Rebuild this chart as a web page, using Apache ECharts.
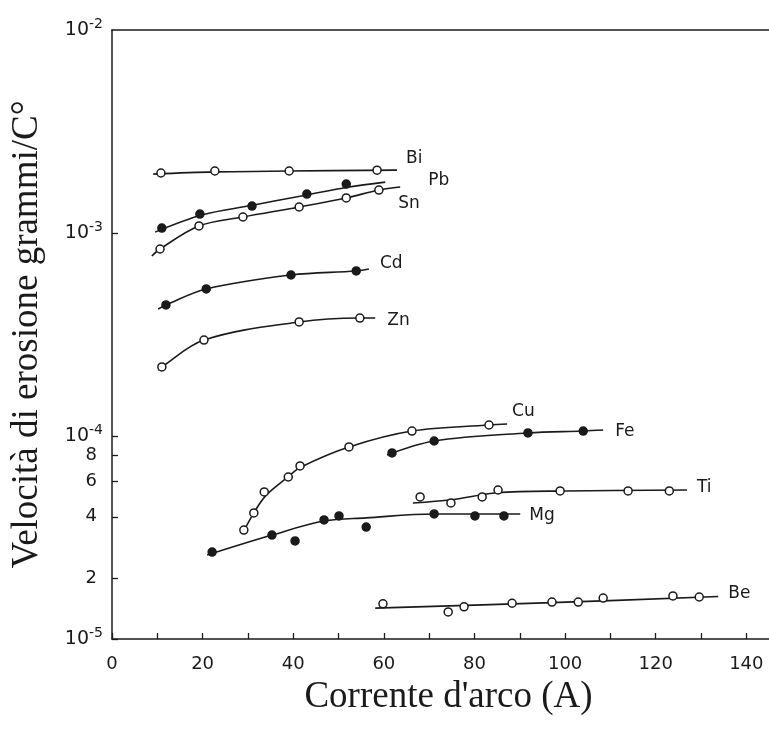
<!DOCTYPE html>
<html>
<head>
<meta charset="utf-8">
<script src="https://cdn.jsdelivr.net/npm/echarts@6/dist/echarts.min.js"></script>
<style>
html,body{margin:0;padding:0;background:#fff;}
#chart{width:769px;height:729px;}
</style>
</head>
<body>
<div id="chart"></div>
<script>
// ---- tick labels ----
const yTickValues = [1e-5, 2e-5, 4e-5, 6e-5, 8e-5, 1e-4, 1e-3, 1e-2];
const yTickLabels = ['10|-5', '2', '4', '6', '8', '10|-4', '10|-3', '10|-2'];
const xTickValues = [0, 10, 20, 30, 40, 50, 60, 70, 80, 90, 100, 110, 120, 130, 140];
const xLabelValues = [0, 20, 40, 60, 80, 100, 120, 140];

// ---- metals ----
const metals = ['Bi', 'Pb', 'Sn', 'Cd', 'Zn', 'Cu', 'Fe', 'Ti', 'Mg', 'Be'];
const filledMetals = ['Pb', 'Cd', 'Fe', 'Mg'];

// measured points [current A, erosion g/C]
const Bi_points = [[10.8, 1.975e-3], [22.7, 2.02e-3], [39.1, 2.02e-3], [58.5, 2.04e-3]];
const Pb_points = [[11.0, 1.058e-3], [19.4, 1.24e-3], [30.9, 1.358e-3], [43.0, 1.556e-3], [51.7, 1.743e-3]];
const Sn_points = [[10.6, 8.34e-4], [19.2, 1.083e-3], [28.9, 1.199e-3], [41.3, 1.343e-3], [51.7, 1.488e-3], [58.9, 1.628e-3]];
const Cd_points = [[11.9, 4.42e-4], [20.8, 5.30e-4], [39.5, 6.21e-4], [53.9, 6.50e-4]];
const Zn_points = [[11.0, 2.19e-4], [20.3, 2.97e-4], [41.3, 3.645e-4], [54.7, 3.81e-4]];
const Cu_points = [[29.1, 3.44e-5], [31.3, 4.18e-5], [33.6, 5.30e-5], [38.9, 6.28e-5], [41.5, 7.12e-5], [52.3, 8.83e-5], [66.2, 1.058e-4], [83.2, 1.133e-4]];
const Fe_points = [[61.8, 8.25e-5], [71.1, 9.45e-5], [91.8, 1.035e-4], [104.0, 1.058e-4]];
const Ti_points = [[68.0, 5.01e-5], [74.8, 4.68e-5], [81.7, 5.01e-5], [85.2, 5.42e-5], [98.9, 5.36e-5], [113.9, 5.36e-5], [123.0, 5.36e-5]];
const Mg_points = [[22.1, 2.68e-5], [35.3, 3.25e-5], [40.4, 3.04e-5], [46.8, 3.86e-5], [50.1, 4.04e-5], [56.1, 3.56e-5], [71.1, 4.13e-5], [80.1, 4.04e-5], [86.5, 4.04e-5]];
const Be_points = [[59.8, 1.49e-5], [74.2, 1.36e-5], [77.7, 1.44e-5], [88.3, 1.50e-5], [97.1, 1.52e-5], [102.9, 1.52e-5], [108.4, 1.59e-5], [123.8, 1.63e-5], [129.6, 1.61e-5]];

// hand-drawn fitted curves
const Bi_curve = [[9.1, 1.95e-3], [22.7, 2.0e-3], [39.1, 2.02e-3], [62.9, 2.04e-3]];
const Pb_curve = [[9.5, 1.01e-3], [20, 1.23e-3], [31, 1.37e-3], [43, 1.54e-3], [52, 1.68e-3], [60.3, 1.78e-3]];
const Sn_curve = [[8.8, 7.7e-4], [10.6, 8.34e-4], [19.2, 1.083e-3], [28.9, 1.199e-3], [41.3, 1.343e-3], [51.7, 1.488e-3], [58.9, 1.628e-3], [63.6, 1.685e-3]];
const Cd_curve = [[10.2, 4.22e-4], [11.9, 4.42e-4], [20.8, 5.30e-4], [39.5, 6.21e-4], [53.9, 6.50e-4], [56.7, 6.65e-4]];
const Zn_curve = [[10.2, 2.11e-4], [11.0, 2.19e-4], [20.3, 2.97e-4], [41.3, 3.645e-4], [54.7, 3.81e-4], [58.1, 3.81e-4]];
const Cu_curve = [[28.8, 3.3e-5], [31.3, 4.18e-5], [34, 5.1e-5], [38.9, 6.3e-5], [41.5, 7.0e-5], [52.3, 8.83e-5], [66.2, 1.058e-4], [83.2, 1.133e-4], [87.2, 1.146e-4]];
const Fe_curve = [[60.7, 8.06e-5], [71.1, 9.45e-5], [91.8, 1.035e-4], [104.0, 1.058e-4], [108.4, 1.07e-4]];
const Ti_curve = [[66.4, 4.68e-5], [75, 4.85e-5], [85, 5.25e-5], [100, 5.36e-5], [126.9, 5.42e-5]];
const Mg_curve = [[21.0, 2.59e-5], [35.3, 3.25e-5], [46.8, 3.81e-5], [56.1, 3.95e-5], [71.1, 4.13e-5], [90.1, 4.13e-5]];
const Be_curve = [[58.1, 1.42e-5], [97, 1.51e-5], [133.8, 1.62e-5]];

const pointsByMetal = {Bi: Bi_points, Pb: Pb_points, Sn: Sn_points, Cd: Cd_points, Zn: Zn_points, Cu: Cu_points, Fe: Fe_points, Ti: Ti_points, Mg: Mg_points, Be: Be_points};
const curveByMetal = {Bi: Bi_curve, Pb: Pb_curve, Sn: Sn_curve, Cd: Cd_curve, Zn: Zn_curve, Cu: Cu_curve, Fe: Fe_curve, Ti: Ti_curve, Mg: Mg_curve, Be: Be_curve};

// label offsets (style)
const labelOffset = {Bi: [9, -12], Pb: [43, -2], Sn: [-2, 17], Cd: [11, -5], Zn: [12, 3], Cu: [5, -12], Fe: [12, 2], Ti: [10, -2], Mg: [9, 2], Be: [10, -3]};

const INK = '#1a1a1a';
const SANS = 'DejaVu Sans';
const SERIF = 'Liberation Serif';

const series = [];
metals.forEach(function (m) {
  series.push({
    name: m + ' curve',
    type: 'line',
    data: curveByMetal[m],
    smooth: 0.35,
    showSymbol: false,
    symbol: 'none',
    silent: true,
    lineStyle: {color: INK, width: 1.6},
    endLabel: {
      show: true,
      formatter: m,
      distance: 0,
      offset: labelOffset[m],
      color: INK,
      fontFamily: SANS,
      fontSize: 17
    },
    z: 2
  });
  const filled = filledMetals.indexOf(m) >= 0;
  series.push({
    name: m,
    type: 'scatter',
    data: pointsByMetal[m],
    symbol: 'circle',
    symbolSize: 8,
    itemStyle: {color: filled ? INK : '#fff', borderColor: INK, borderWidth: 1.5, opacity: 1},
    z: 3
  });
});

function yLabel(v) {
  let best = 0, bd = Infinity;
  for (let i = 0; i < yTickValues.length; i++) {
    const d = Math.abs(Math.log10(v) - Math.log10(yTickValues[i]));
    if (d < bd) { bd = d; best = i; }
  }
  if (bd > 0.01) return '';
  const t = yTickLabels[best];
  if (t.indexOf('|') >= 0) {
    const p = t.split('|');
    return '{b|' + p[0] + '}{s|' + p[1] + '}';
  }
  return '{d|' + t + '}';
}

const chart = echarts.init(document.getElementById('chart'), null, {renderer: 'canvas'});
chart.setOption({
  backgroundColor: '#fff',
  animation: false,
  grid: {left: 112, right: 0, top: 30, bottom: 90, show: false, containLabel: false},
  xAxis: [{
    type: 'value',
    min: 0,
    max: 145,
    interval: 10,
    axisLine: {show: true, lineStyle: {color: INK, width: 1.5}},
    axisTick: {show: true, inside: true, length: 6, lineStyle: {color: INK, width: 1.3}, customValues: xTickValues},
    splitLine: {show: false},
    axisLabel: {
      customValues: xLabelValues,
      margin: 16,
      color: INK,
      fontFamily: SANS,
      fontSize: 18
    },
    name: "Corrente d'arco (A)",
    nameLocation: 'middle',
    nameGap: 40,
    nameTextStyle: {fontFamily: SERIF, fontSize: 37, color: INK, padding: [0, 0, 0, 16]}
  }, {
    type: 'value',
    position: 'top',
    min: 0,
    max: 145,
    axisLine: {show: true, onZero: false, lineStyle: {color: INK, width: 1.5}},
    axisTick: {show: false},
    axisLabel: {show: false},
    splitLine: {show: false}
  }],
  yAxis: {
    type: 'log',
    logBase: 10,
    min: 1e-5,
    max: 1e-2,
    axisLine: {show: true, lineStyle: {color: INK, width: 1.5}},
    axisTick: {show: true, inside: true, length: 6, lineStyle: {color: INK, width: 1.3}, customValues: yTickValues.slice(0, 7)},
    splitLine: {show: false},
    minorTick: {show: false},
    axisLabel: {
      customValues: yTickValues,
      margin: 9,
      color: INK,
      fontFamily: SANS,
      formatter: yLabel,
      rich: {
        b: {fontFamily: SANS, fontSize: 19, color: INK},
        d: {fontFamily: SANS, fontSize: 18, color: INK, padding: [0, 6, 0, 0]},
        s: {fontFamily: SANS, fontSize: 14, color: INK, padding: [0, 0, 12, 0]}
      }
    },
    name: 'Velocità di erosione grammi/C°',
    nameLocation: 'middle',
    nameGap: 66,
    nameTextStyle: {fontFamily: SERIF, fontSize: 37, color: INK}
  },
  series: series
});
</script>
</body>
</html>
